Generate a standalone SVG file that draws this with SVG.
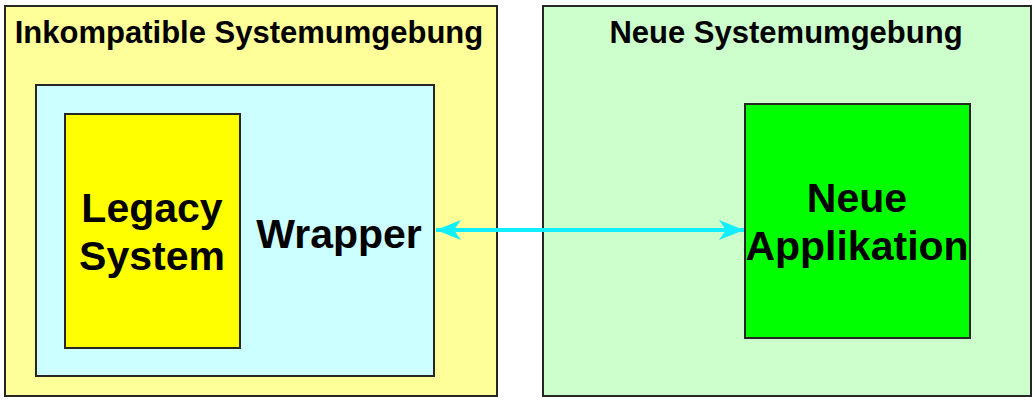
<svg xmlns="http://www.w3.org/2000/svg" width="1035" height="403" viewBox="0 0 1035 403">
<style>
.box{stroke:#262626;stroke-width:2}
.t{font-family:"Liberation Sans",Arial,sans-serif;font-weight:bold;fill:#000;text-anchor:middle}
.big{font-size:41px}
</style>
<defs>
<marker id="ah" viewBox="0 0 26 22" refX="25" refY="11" markerWidth="26" markerHeight="22" markerUnits="userSpaceOnUse" orient="auto-start-reverse">
<path d="M0,1 L25,11 L0,21 L7,11 Z" fill="#11eeff"/>
</marker>
</defs>
<rect width="1035" height="403" fill="#fff"/>
<g id="inkompatible">
<rect class="box" x="5" y="6" width="492" height="390" fill="#ffff99"/>
<text class="t" x="249" y="43" font-size="31">Inkompatible Systemumgebung</text>
</g>
<g id="neue-umgebung">
<rect class="box" x="543" y="6" width="488" height="390" fill="#ccffcc"/>
<text class="t" x="786" y="43" font-size="31">Neue Systemumgebung</text>
</g>
<g id="wrapper">
<rect class="box" x="36" y="85" width="398" height="291" fill="#ccffff"/>
<text class="t big" x="339" y="248">Wrapper</text>
</g>
<g id="legacy">
<rect class="box" x="65" y="114" width="175" height="234" fill="#ffff00"/>
<text class="t big" x="152" y="222">Legacy</text>
<text class="t big" x="152" y="270">System</text>
</g>
<g id="applikation">
<rect class="box" x="745" y="104" width="225" height="234" fill="#00ff00"/>
<text class="t big" x="857" y="212">Neue</text>
<text class="t big" x="857" y="260">Applikation</text>
</g>
<g id="connectors">
<line x1="436" y1="230" x2="744" y2="230" stroke="#11eeff" stroke-width="4" marker-start="url(#ah)" marker-end="url(#ah)"/>
</g>
</svg>
